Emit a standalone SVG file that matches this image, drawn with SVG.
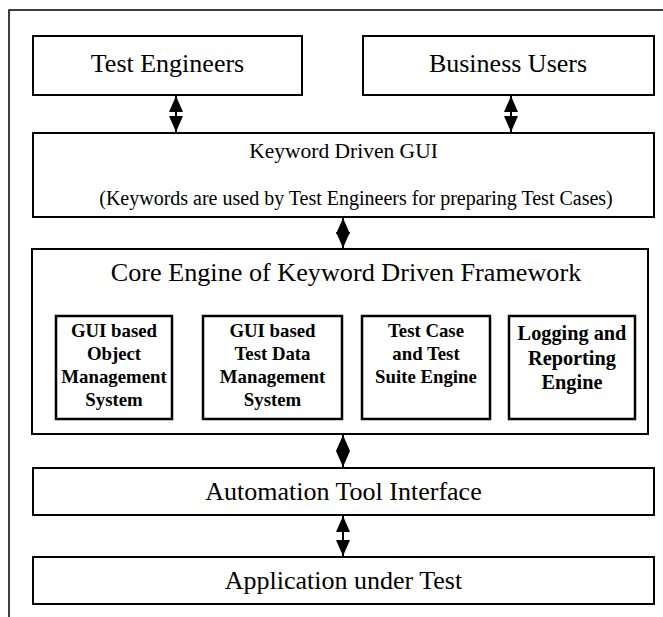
<svg xmlns="http://www.w3.org/2000/svg" width="663" height="617" viewBox="0 0 663 617">
<style>
.box{fill:#fff;stroke:#000;stroke-width:2}
.ibox{fill:#fff;stroke:#000;stroke-width:2.5}
text{font-family:'Liberation Serif','Times New Roman',Times,serif;fill:#000;text-anchor:middle}
.b{font-weight:bold;font-size:18.8px}
.bl{font-weight:bold;font-size:20.3px}
.c{stroke:#000;stroke-width:2;fill:none;marker-start:url(#ah);marker-end:url(#ah)}
</style>
<defs>
<marker id="ah" markerUnits="userSpaceOnUse" markerWidth="16" markerHeight="14" refX="16" refY="7" orient="auto-start-reverse">
<path d="M0,0 L16,7 L0,14 z" fill="#000"/>
</marker>
</defs>
<rect width="663" height="617" fill="#fff"/>
<g id="frame"><path d="M9,617 V10 H663" fill="none" stroke="#000" stroke-width="1.5"/></g>
<g id="test-engineers"><rect class="box" x="33" y="36" width="269" height="59"/><text x="167.5" y="72" font-size="26">Test Engineers</text></g>
<g id="business-users"><rect class="box" x="363" y="36" width="291" height="59"/><text x="508" y="72" font-size="26">Business Users</text></g>
<g id="keyword-gui"><rect class="box" x="33" y="133" width="621" height="84"/><text x="343.5" y="158" font-size="21.5">Keyword Driven GUI</text><text x="356" y="205" font-size="20">(Keywords are used by Test Engineers for preparing Test Cases)</text></g>
<g id="core-engine"><rect class="box" x="32" y="249" width="616" height="185"/><text x="346" y="281" font-size="26.2">Core Engine of Keyword Driven Framework</text>
<g id="object-mgmt"><rect class="ibox" x="56" y="316" width="116" height="103"/><text class="b" x="114" y="337">GUI based</text><text class="b" x="114" y="360">Object</text><text class="b" x="114" y="383">Management</text><text class="b" x="114" y="406">System</text></g>
<g id="data-mgmt"><rect class="ibox" x="203" y="316" width="139" height="103"/><text class="b" x="272.5" y="337">GUI based</text><text class="b" x="272.5" y="360">Test Data</text><text class="b" x="272.5" y="383">Management</text><text class="b" x="272.5" y="406">System</text></g>
<g id="test-case-engine"><rect class="ibox" x="362" y="316" width="128" height="103"/><text class="b" x="426" y="337">Test Case</text><text class="b" x="426" y="360">and Test</text><text class="b" x="426" y="383">Suite Engine</text></g>
<g id="logging-engine"><rect class="ibox" x="509" y="316" width="126" height="103"/><text class="bl" x="572" y="340">Logging and</text><text class="bl" x="572" y="365">Reporting</text><text class="bl" x="572" y="389">Engine</text></g>
</g>
<g id="automation-tool"><rect class="box" x="33" y="468" width="621" height="47"/><text x="343.5" y="500" font-size="26">Automation Tool Interface</text></g>
<g id="aut"><rect class="box" x="33" y="557" width="621" height="47"/><text x="343.5" y="589" font-size="26">Application under Test</text></g>
<g id="connectors">
<line class="c" x1="176" y1="96" x2="176" y2="132"/>
<line class="c" x1="511" y1="96" x2="511" y2="132"/>
<line class="c" x1="343" y1="218" x2="343" y2="248"/>
<line class="c" x1="343" y1="435" x2="343" y2="467"/>
<line class="c" x1="343" y1="516" x2="343" y2="556"/>
</g>
</svg>
